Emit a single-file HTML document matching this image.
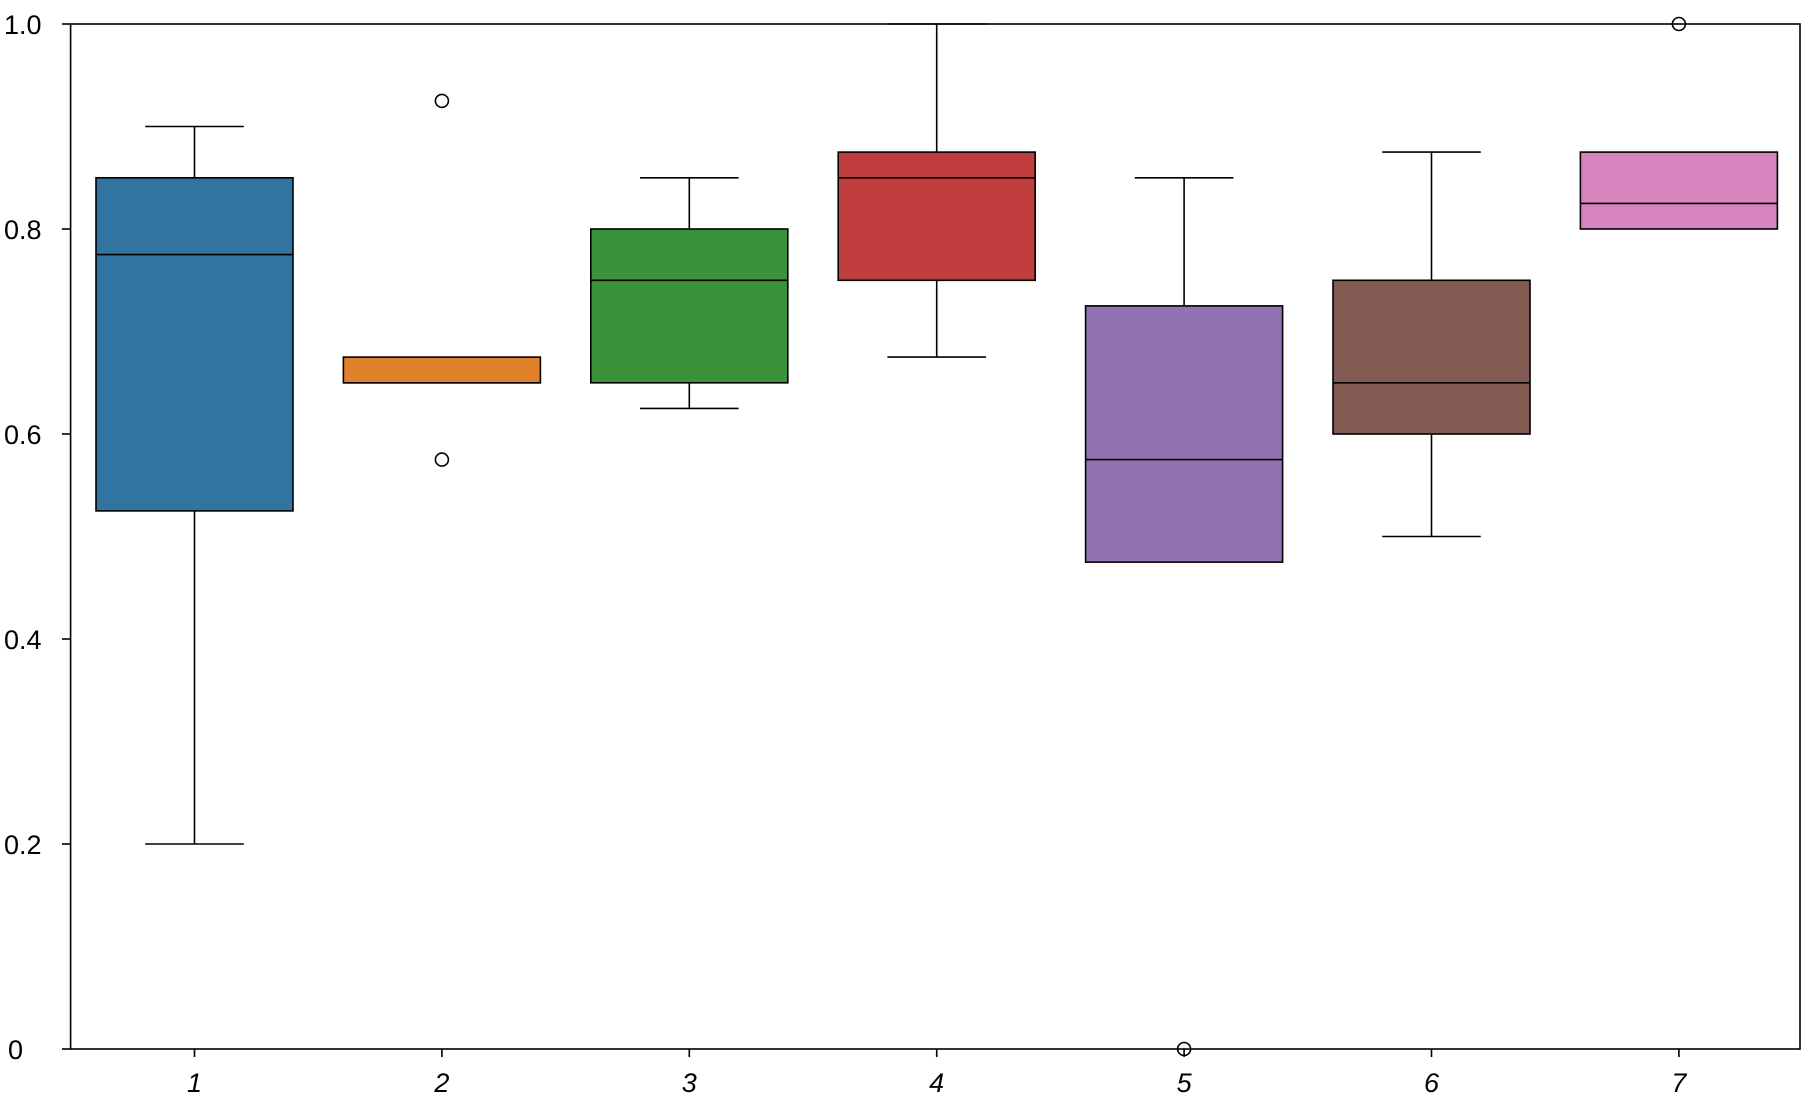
<!DOCTYPE html>
<html><head><meta charset="utf-8"><style>
html,body{margin:0;padding:0;background:#fff}
text{font-family:"Liberation Sans Narrow","Liberation Sans",sans-serif;font-size:27px;fill:#000}
</style></head><body>
<svg width="1810" height="1104" xmlns="http://www.w3.org/2000/svg">
<g stroke="#000" stroke-width="1.6">
<!-- 1 -->
<line x1="194.5" x2="194.5" y1="126.5" y2="177.8"/><line x1="145.2" x2="243.8" y1="126.5" y2="126.5"/>
<line x1="194.5" x2="194.5" y1="510.9" y2="844"/><line x1="145.2" x2="243.8" y1="844" y2="844"/>
<rect x="96" y="177.8" width="197" height="333.1" fill="#3274a1"/>
<line x1="96" x2="293" y1="254.6" y2="254.6"/>
<!-- 2 -->
<rect x="343.4" y="357.1" width="197" height="25.7" fill="#e1812c"/>
<line x1="343.4" x2="540.4" y1="382.8" y2="382.8"/>
<circle cx="441.9" cy="100.9" r="6.5" fill="#fff"/><circle cx="441.9" cy="459.6" r="6.5" fill="#fff"/>
<!-- 3 -->
<line x1="689.3" x2="689.3" y1="177.8" y2="229"/><line x1="640" x2="738.6" y1="177.8" y2="177.8"/>
<line x1="689.3" x2="689.3" y1="382.8" y2="408.4"/><line x1="640" x2="738.6" y1="408.4" y2="408.4"/>
<rect x="590.8" y="229" width="197" height="153.8" fill="#3a923a"/>
<line x1="590.8" x2="787.8" y1="280.3" y2="280.3"/>
<!-- 4 -->
<line x1="936.7" x2="936.7" y1="24" y2="152.1"/><line x1="887.4" x2="986" y1="24" y2="24"/>
<line x1="936.7" x2="936.7" y1="280.3" y2="357.1"/><line x1="887.4" x2="986" y1="357.1" y2="357.1"/>
<rect x="838.2" y="152.1" width="197" height="128.2" fill="#c03d3e"/>
<line x1="838.2" x2="1035.2" y1="177.8" y2="177.8"/>
<!-- 5 -->
<line x1="1184.1" x2="1184.1" y1="177.8" y2="305.9"/><line x1="1134.8" x2="1233.4" y1="177.8" y2="177.8"/>
<rect x="1085.6" y="305.9" width="197" height="256.2" fill="#9372b2"/>
<line x1="1085.6" x2="1282.6" y1="459.6" y2="459.6"/>
<circle cx="1184.1" cy="1049" r="6.5" fill="#fff"/>
<!-- 6 -->
<line x1="1431.5" x2="1431.5" y1="152.1" y2="280.3"/><line x1="1382.2" x2="1480.8" y1="152.1" y2="152.1"/>
<line x1="1431.5" x2="1431.5" y1="434" y2="536.5"/><line x1="1382.2" x2="1480.8" y1="536.5" y2="536.5"/>
<rect x="1333" y="280.3" width="197" height="153.7" fill="#845b53"/>
<line x1="1333" x2="1530" y1="382.8" y2="382.8"/>
<!-- 7 -->
<rect x="1580.4" y="152.1" width="197" height="76.9" fill="#d684bd"/>
<line x1="1580.4" x2="1777.4" y1="203.4" y2="203.4"/>
<circle cx="1678.9" cy="24" r="6.5" fill="#fff"/>
<!-- ticks -->
<line x1="62" x2="70.6" y1="1049" y2="1049"/><line x1="62" x2="70.6" y1="844" y2="844"/>
<line x1="62" x2="70.6" y1="639" y2="639"/><line x1="62" x2="70.6" y1="434" y2="434"/>
<line x1="62" x2="70.6" y1="229" y2="229"/><line x1="62" x2="70.6" y1="24" y2="24"/>
<line x1="194.5" x2="194.5" y1="1049" y2="1057"/><line x1="441.9" x2="441.9" y1="1049" y2="1057"/>
<line x1="689.3" x2="689.3" y1="1049" y2="1057"/><line x1="936.7" x2="936.7" y1="1049" y2="1057"/>
<line x1="1184.1" x2="1184.1" y1="1049" y2="1057"/><line x1="1431.5" x2="1431.5" y1="1049" y2="1057"/>
<line x1="1678.9" x2="1678.9" y1="1049" y2="1057"/>
</g>
<rect x="70.6" y="24" width="1729.4" height="1025" fill="none" stroke="#000" stroke-width="1.6"/>
<text x="8" y="1059">0</text>
<text x="4" y="854">0.2</text>
<text x="4" y="649">0.4</text>
<text x="4" y="444">0.6</text>
<text x="4" y="239">0.8</text>
<text x="4" y="34">1.0</text>
<g font-style="italic" text-anchor="middle">
<text x="194.5" y="1092" font-style="italic">1</text>
<text x="441.9" y="1092" font-style="italic">2</text>
<text x="689.3" y="1092" font-style="italic">3</text>
<text x="936.7" y="1092" font-style="italic">4</text>
<text x="1184.1" y="1092" font-style="italic">5</text>
<text x="1431.5" y="1092" font-style="italic">6</text>
<text x="1678.9" y="1092" font-style="italic">7</text>
</g>
</svg>
</body></html>
